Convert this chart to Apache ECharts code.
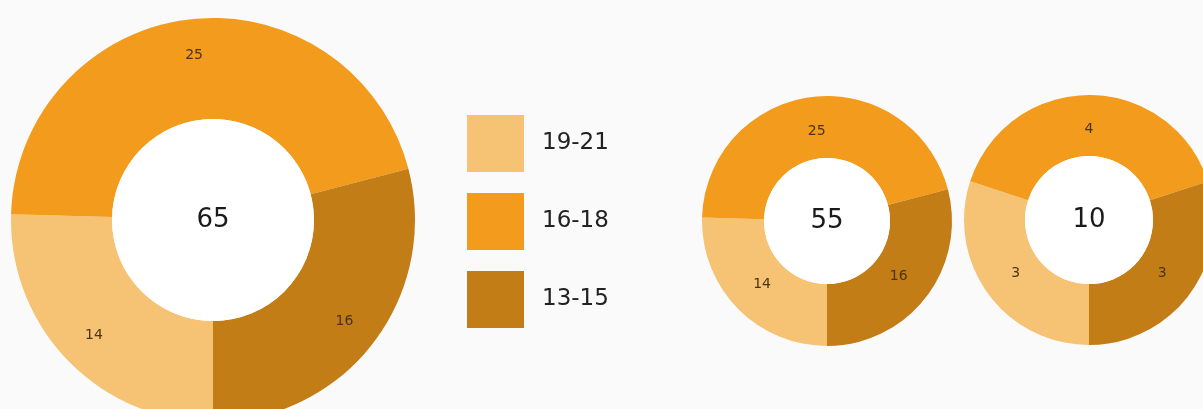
<!DOCTYPE html>
<html>
<head>
<meta charset="utf-8">
<script src="https://cdn.jsdelivr.net/npm/echarts@6/dist/echarts.min.js"></script>
<style>
  html, body { margin: 0; padding: 0; background: #fafafa; }
  #main { width: 1203px; height: 409px; }
</style>
</head>
<body>
<div id="main"></div>
<script>
// categories and values
const groups = ['19-21', '16-18', '13-15'];
const bigValues = [14, 25, 16];
const midValues = [14, 25, 16];
const smallValues = [3, 4, 3];
const centerLabels = ['65', '55', '10'];

const colors = ['#f6c273', '#f29b1c', '#c27d17'];

const myChart = echarts.init(document.getElementById('main'));

const toData = (vals) => vals.map((v, i) => ({ name: groups[i], value: v }));

// one donut = the ring + a white hole carrying the centre number
const donut = (vals, centerText, center, r0, r, labelRadius) => {
    const ring = {
        type: 'pie',
        center: center,
        radius: [r0, r],
        startAngle: -90,
        clockwise: true,
        silent: true,
        avoidLabelOverlap: false,
        itemStyle: { borderWidth: 0 },
        label: { show: false },
        labelLine: { show: false },
        data: toData(vals)
    };
    // transparent copy used only to place the slice labels
    const labels = {
        type: 'pie',
        center: center,
        radius: labelRadius,
        startAngle: -90,
        clockwise: true,
        silent: true,
        avoidLabelOverlap: false,
        itemStyle: { color: 'rgba(0,0,0,0)', borderWidth: 0 },
        label: {
            show: true,
            position: 'inside',
            formatter: '{c}',
            color: '#4a3514',
            fontSize: 14,
            fontFamily: 'DejaVu Sans'
        },
        labelLine: { show: false },
        data: toData(vals)
    };
    const hole = {
        type: 'pie',
        center: center,
        radius: [0, r0],
        silent: true,
        itemStyle: { color: '#ffffff' },
        label: {
            show: true,
            position: 'center',
            formatter: centerText,
            color: '#1a1a1a',
            fontSize: 26,
            fontFamily: 'DejaVu Sans'
        },
        labelLine: { show: false },
        data: [{ name: 'total', value: 1 }]
    };
    return [ring, labels, hole];
};

const option = {
    backgroundColor: '#fafafa',
    animation: false,
    color: colors,
    legend: {
        data: groups,
        orient: 'vertical',
        left: 467,
        top: 115,
        padding: 0,
        itemWidth: 57,
        itemHeight: 57,
        itemGap: 21,
        icon: 'rect',
        selectedMode: false,
        textStyle: {
            fontSize: 23,
            color: '#222',
            fontFamily: 'DejaVu Sans',
            padding: [0, 0, 0, 13]
        }
    },
    series: [
        ...donut(bigValues, centerLabels[0], [213, 220], 101, 202, [124, 202]),
        ...donut(midValues, centerLabels[1], [827, 221], 63, 125, [50, 125]),
        ...donut(smallValues, centerLabels[2], [1089, 220], 64, 125, [50, 125])
    ]
};

myChart.setOption(option);
</script>
</body>
</html>
